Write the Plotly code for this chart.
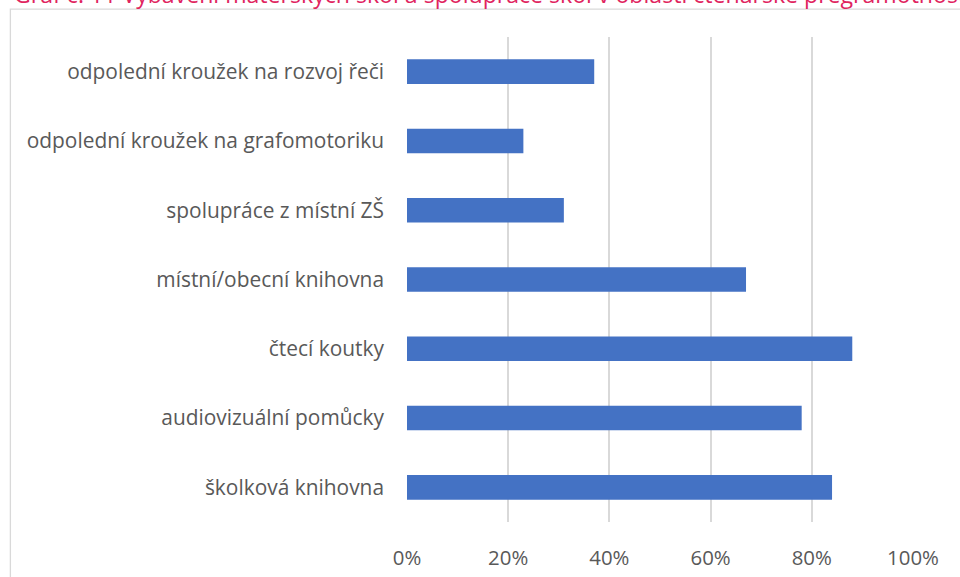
import plotly.graph_objects as go

categories = [
    "odpolední kroužek na rozvoj řeči",
    "odpolední kroužek na grafomotoriku",
    "spolupráce z místní ZŠ",
    "místní/obecní knihovna",
    "čtecí koutky",
    "audiovizuální pomůcky",
    "školková knihovna",
]
values = [0.37, 0.23, 0.31, 0.67, 0.88, 0.78, 0.84]
tick_values = [0, 0.2, 0.4, 0.6, 0.8, 1.0]
tick_labels = ["0%", "20%", "40%", "60%", "80%", "100%"]
title_text = "Graf č. 11 Vybavení mateřských škol a spolupráce škol v oblasti čtenářské pregramotnosti"

W, H = 960, 577
L, R, T, B = 406.5, 47, 37.4, 54.7
pw, ph = W - L - R, H - T - B

def px_to_paper_x(px):
    return (px - L) / pw

def px_to_paper_y(py):
    return (H - B - py) / ph

fig = go.Figure(
    go.Bar(
        x=values,
        y=categories,
        orientation="h",
        marker=dict(color="#4472C4", line=dict(width=0)),
        hoverinfo="skip",
    )
)

fig.update_layout(
    width=W,
    height=H,
    margin=dict(l=L, r=R, t=T, b=B, autoexpand=False),
    paper_bgcolor="white",
    plot_bgcolor="white",
    showlegend=False,
    bargap=0.645,
    font=dict(family="Open Sans", color="#595959", size=20),
    xaxis=dict(
        range=[0, 1],
        tickvals=tick_values,
        ticktext=tick_labels,
        showgrid=True,
        gridcolor="#d9d9d9",
        gridwidth=1.5,
        zeroline=False,
        showline=False,
        ticks="",
        ticklabelstandoff=22,
        tickfont=dict(size=20.4, color="#595959"),
        fixedrange=True,
    ),
    yaxis=dict(
        autorange="reversed",
        showgrid=False,
        zeroline=False,
        showline=False,
        ticks="",
        ticklabelstandoff=22,
        tickfont=dict(size=20.9, color="#595959"),
        fixedrange=True,
    ),
    shapes=[
        dict(
            type="rect",
            xref="paper",
            yref="paper",
            x0=px_to_paper_x(9.5),
            x1=px_to_paper_x(1000),
            y0=px_to_paper_y(620),
            y1=px_to_paper_y(9.5),
            line=dict(color="#d9d9d9", width=1.3),
            fillcolor="rgba(0,0,0,0)",
            layer="below",
        )
    ],
    annotations=[
        dict(
            text=title_text,
            xref="paper",
            yref="paper",
            x=px_to_paper_x(12),
            y=px_to_paper_y(11.8),
            xanchor="left",
            yanchor="bottom",
            showarrow=False,
            font=dict(family="Open Sans", size=23.1, color="#E0245E"),
            borderpad=0,
        )
    ],
)

fig.write_html(
    "out.html",
    config={"displayModeBar": False},
    post_script="document.body.style.margin='0';document.body.style.overflow='hidden';",
)
